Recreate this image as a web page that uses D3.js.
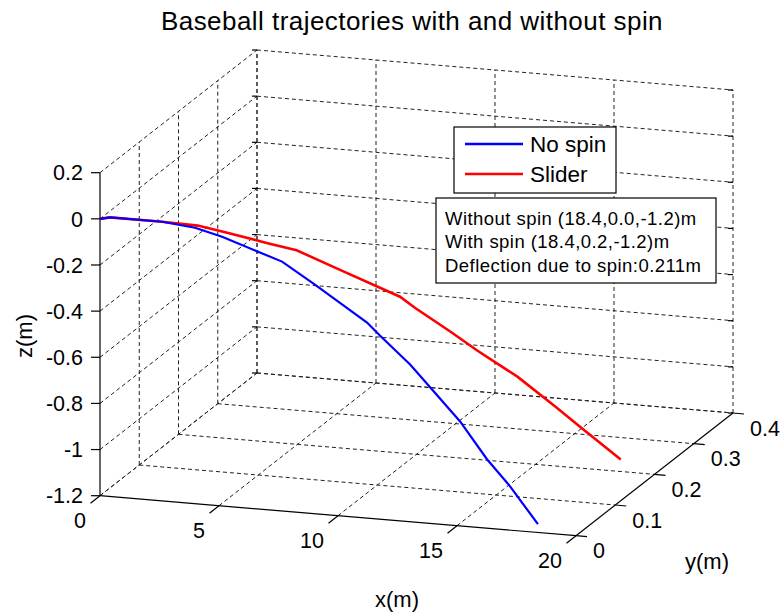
<!DOCTYPE html>
<html>
<head>
<meta charset="utf-8">
<script src="https://cdn.jsdelivr.net/npm/d3@7"></script>
<style>
  body { margin: 0; background: #fff; }
  text { font-family: Arial, "Liberation Sans", sans-serif; fill: #000; }
  .grid { stroke: #222; stroke-width: 1; stroke-dasharray: 4,3; fill: none; }
  .axisline { stroke: #000; stroke-width: 1.2; fill: none; }
</style>
</head>
<body>
<div id="chart"></div>
<script>
// trajectory samples (metres)
var noSpinX = [0, 0.42, 2.61, 3.99, 5.13, 6.64, 7.65, 9.03, 11.22, 11.76, 13.03, 13.87, 15.13, 16.26, 17.23, 18.4];
var noSpinY = [0, 0, 0, 0, 0, 0, 0, 0, 0, 0, 0, 0, 0, 0, 0, 0];
var noSpinZ = [0, 0.01, 0.01, -0.004, -0.033, -0.085, -0.119, -0.207, -0.352, -0.404, -0.518, -0.61, -0.747, -0.901, -1.01, -1.164];

var sliderX = [0, 0.42, 2.61, 3.99, 5.13, 6.64, 7.65, 9.03, 11.22, 11.76, 13.03, 13.87, 15.13, 16.26, 17.23, 18.4];
var sliderY = [0, 0, 0, 0.007, 0.013, 0.027, 0.037, 0.054, 0.084, 0.09, 0.105, 0.12, 0.146, 0.173, 0.186, 0.211];
var sliderZ = [0, 0.01, 0.01, -0.004, -0.033, -0.085, -0.119, -0.207, -0.352, -0.404, -0.518, -0.61, -0.747, -0.901, -1.01, -1.164];

var xTicks = [0, 5, 10, 15, 20];
var xTickLabels = ["0", "5", "10", "15", "20"];
var yTicks = [0, 0.1, 0.2, 0.3, 0.4];
var yTickLabels = ["0", "0.1", "0.2", "0.3", "0.4"];
var zTicks = [-1.2, -1, -0.8, -0.6, -0.4, -0.2, 0, 0.2];
var zTickLabels = ["-1.2", "-1", "-0.8", "-0.6", "-0.4", "-0.2", "0", "0.2"];

var legendNames = ["No spin", "Slider"];
var legendColors = ["#0000ff", "#ff0000"];
var infoLines = ["Without spin (18.4,0.0,-1.2)m", "With spin (18.4,0.2,-1.2)m", "Deflection due to spin:0.211m"];

var width = 783, height = 614;

var svg = d3.select("#chart").append("svg")
    .attr("width", width)
    .attr("height", height);

// 3D view: each axis scale goes 0..1, then gets pushed along its screen vector
var xScale = d3.scaleLinear().domain([0, 20]).range([0, 1]);
var yScale = d3.scaleLinear().domain([0, 0.4]).range([0, 1]);
var zScale = d3.scaleLinear().domain([-1.2, 0.2]).range([0, 1]);

var origin = [100, 495.7];
var ex = [476, 40],
    ey = [157, -122.7],
    ez = [0, -323];

function project(x, y, z) {
    var a = xScale(x), b = yScale(y), c = zScale(z);
    return [origin[0] + a * ex[0] + b * ey[0] + c * ez[0],
            origin[1] + a * ex[1] + b * ey[1] + c * ez[1]];
}

function seg(p, q) {
    svg.append("line")
        .attr("class", "grid")
        .attr("x1", p[0]).attr("y1", p[1])
        .attr("x2", q[0]).attr("y2", q[1]);
}

var x0 = 0, x1 = 20, y0 = 0, y1 = 0.4, z0 = -1.2, z1 = 0.2;

// Grid on the x=0 wall
zTicks.forEach(function(z){ seg(project(x0, y0, z), project(x0, y1, z)); });
yTicks.forEach(function(y){ if (y > y0) seg(project(x0, y, z0), project(x0, y, z1)); });

// Grid on the back wall (y = 0.4)
zTicks.forEach(function(z){ seg(project(x0, y1, z), project(x1, y1, z)); });
xTicks.forEach(function(x){ seg(project(x, y1, z0), project(x, y1, z1)); });

// Grid on the floor
xTicks.forEach(function(x){ if (x < x1) seg(project(x, y0, z0), project(x, y1, z0)); });
yTicks.forEach(function(y){ if (y > y0) seg(project(x0, y, z0), project(x1, y, z0)); });

// small ticks on the back vertical edges
zTicks.forEach(function(z){
    [x0, x1].forEach(function(x){
        var p = project(x, y1, z);
        svg.append("line").attr("class", "axisline").attr("stroke-width", 1)
            .attr("x1", p[0] - 5).attr("y1", p[1]).attr("x2", p[0]).attr("y2", p[1]);
    });
});

// Axis lines
var line2 = d3.line();
svg.append("path").attr("class", "axisline")
    .attr("d", line2([project(x0, y0, z0), project(x0, y0, z1)]));
svg.append("path").attr("class", "axisline")
    .attr("d", line2([project(x0, y0, z0), project(x1, y0, z0)]));
svg.append("path").attr("class", "axisline")
    .attr("d", line2([project(x1, y0, z0), project(x1, y1, z0)]));

// z ticks + labels
zTicks.forEach(function(z, i){
    var p = project(x0, y0, z);
    svg.append("line").attr("class", "axisline")
        .attr("x1", p[0] - 9).attr("y1", p[1]).attr("x2", p[0]).attr("y2", p[1]);
    svg.append("text")
        .attr("x", p[0] - 17).attr("y", p[1])
        .attr("dy", "0.36em")
        .attr("text-anchor", "end")
        .style("font-size", "21.5px")
        .text(zTickLabels[i]);
});

// x ticks + labels (tick points toward -y)
xTicks.forEach(function(x, i){
    var p = project(x, y0, z0);
    svg.append("line").attr("class", "axisline")
        .attr("x1", p[0]).attr("y1", p[1]).attr("x2", p[0] - 9.5).attr("y2", p[1] + 7.5);
    svg.append("text")
        .attr("x", p[0] - 14).attr("y", p[1] + 25)
        .attr("dy", "0.36em")
        .attr("text-anchor", "end")
        .style("font-size", "21.5px")
        .text(xTickLabels[i]);
});

// y ticks + labels (tick points toward +x)
yTicks.forEach(function(y, i){
    var p = project(x1, y, z0);
    svg.append("line").attr("class", "axisline")
        .attr("x1", p[0]).attr("y1", p[1]).attr("x2", p[0] + 11).attr("y2", p[1] + 1);
    svg.append("text")
        .attr("x", p[0] + 17).attr("y", p[1] + 15)
        .attr("dy", "0.36em")
        .attr("text-anchor", "start")
        .style("font-size", "21.5px")
        .text(yTickLabels[i]);
});

// Trajectories (slider first so no-spin sits on top where they overlap)
var traj = d3.line()
    .x(function(d){ return d[0]; })
    .y(function(d){ return d[1]; });

var noSpinPts = noSpinX.map(function(x, i){ return project(x, noSpinY[i], noSpinZ[i]); });
var sliderPts = sliderX.map(function(x, i){ return project(x, sliderY[i], sliderZ[i]); });

svg.append("path").datum(sliderPts)
    .attr("d", traj)
    .attr("fill", "none")
    .attr("stroke", legendColors[1])
    .attr("stroke-width", 2.6);

svg.append("path").datum(noSpinPts)
    .attr("d", traj)
    .attr("fill", "none")
    .attr("stroke", legendColors[0])
    .attr("stroke-width", 2.2);

// Title and axis labels
svg.append("text")
    .attr("x", 412).attr("y", 30)
    .attr("text-anchor", "middle")
    .style("font-size", "26px")
    .style("letter-spacing", "0.45px")
    .text("Baseball trajectories with and without spin");

svg.append("text")
    .attr("x", 397).attr("y", 607)
    .attr("text-anchor", "middle")
    .style("font-size", "22px")
    .text("x(m)");

svg.append("text")
    .attr("x", 707).attr("y", 569)
    .attr("text-anchor", "middle")
    .style("font-size", "22px")
    .text("y(m)");

svg.append("text")
    .attr("transform", "translate(32,336) rotate(-90)")
    .attr("text-anchor", "middle")
    .style("font-size", "22px")
    .text("z(m)");

// Legend
var legend = svg.append("g");
legend.append("rect")
    .attr("x", 454).attr("y", 127)
    .attr("width", 162).attr("height", 66)
    .attr("fill", "#fff").attr("stroke", "#000").attr("stroke-width", 1.2);

legendNames.forEach(function(name, i){
    var ly = 144 + i * 30;
    legend.append("line")
        .attr("x1", 465).attr("x2", 523)
        .attr("y1", ly).attr("y2", ly)
        .attr("stroke", legendColors[i]).attr("stroke-width", 2.5);
    legend.append("text")
        .attr("x", 530).attr("y", ly)
        .attr("dy", "0.36em")
        .style("font-size", "22.5px")
        .text(name);
});

// Info box
var info = svg.append("g");
info.append("rect")
    .attr("x", 436).attr("y", 198)
    .attr("width", 280).attr("height", 85)
    .attr("fill", "#fff").attr("stroke", "#000").attr("stroke-width", 1.2);

infoLines.forEach(function(t, i){
    info.append("text")
        .attr("x", 445).attr("y", 225 + i * 23.3)
        .style("font-size", "18.5px")
        .style("letter-spacing", "0.45px")
        .text(t);
});
</script>
</body>
</html>
